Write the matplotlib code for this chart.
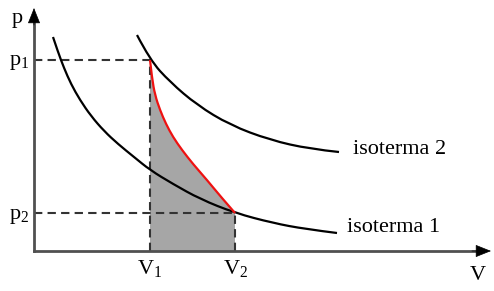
import numpy as np
import matplotlib
matplotlib.use("Agg")
import matplotlib.pyplot as plt
from matplotlib.path import Path
from matplotlib.patches import PathPatch

plt.rcParams['font.family'] = ['Liberation Serif', 'DejaVu Serif']
plt.rcParams['mathtext.fontset'] = 'custom'
plt.rcParams['mathtext.rm'] = 'Liberation Serif'

# state points (arbitrary units)
V1, V2 = 116, 201
p1, p2 = 191, 38

# isotherm 1 (lower)
iso1_V = [19, 24, 30, 37, 46, 57, 70, 84, 100, 116, 139, 166, 201, 239, 271, 303]
iso1_p = [214, 199, 183, 167, 151, 135, 120, 107, 94, 81, 67, 52, 38, 28, 22, 18]

# isotherm 2 (upper)
iso2_V = [103, 116, 136, 163, 196, 236, 276, 305]
iso2_p = [216, 191, 169, 146, 126, 111, 102, 99]

# adiabat from (V1, p1) to (V2, p2)
adi_V = [116, 118, 121, 126, 132, 139, 148, 159, 173, 187, 201]
adi_p = [191, 173, 156, 141, 127, 114, 101, 87, 71, 54, 38]

axis_col = '#505050'
dash_col = '#333333'


def smooth_path(xs, ys):
    # quadratic bezier through the midpoints, read points act as control points
    pts = np.column_stack([xs, ys]).astype(float)
    verts = [pts[0]]
    codes = [Path.MOVETO]
    for i in range(1, len(pts) - 1):
        mid = (pts[i] + pts[i + 1]) / 2 if i < len(pts) - 2 else pts[i + 1]
        verts += [pts[i], mid]
        codes += [Path.CURVE3, Path.CURVE3]
    return Path(verts, codes)


fig = plt.figure(figsize=(4.94, 2.91), dpi=100)
ax = fig.add_axes([0, 0, 1, 1])
ax.set_xlim(-34, 460)
ax.set_ylim(-40, 251)
ax.axis('off')

# shaded work area under the adiabat
adi = smooth_path(adi_V, adi_p)
fill_verts = np.vstack([[[V1, 0]], adi.vertices, [[V2, 0], [V1, 0]]])
fill_codes = [Path.MOVETO, Path.LINETO] + list(adi.codes[1:]) + [Path.LINETO, Path.CLOSEPOLY]
ax.add_patch(PathPatch(Path(fill_verts, fill_codes), fc='#a6a6a6', ec='none', zorder=1))

# dashed guides
ds = (0, (4, 2.5))
ax.plot([0, V1], [p1, p1], color=dash_col, lw=1.5, ls=ds, zorder=2)
ax.plot([0, V2], [p2, p2], color=dash_col, lw=1.5, ls=ds, zorder=2)
ax.plot([V1, V1], [0, p1], color=dash_col, lw=1.5, ls=ds, zorder=2)
ax.plot([V2, V2], [0, p2], color=dash_col, lw=1.5, ls=ds, zorder=2)

# curves
ax.add_patch(PathPatch(smooth_path(iso1_V, iso1_p), fc='none', ec='black', lw=1.6, zorder=3))
ax.add_patch(PathPatch(smooth_path(iso2_V, iso2_p), fc='none', ec='black', lw=1.6, zorder=3))
ax.add_patch(PathPatch(adi, fc='none', ec='#ee1111', lw=1.6, zorder=4))

# axes with arrows
ax.plot([0, 0], [0, 232], color=axis_col, lw=2, zorder=5, solid_capstyle='projecting')
ax.plot([0, 441], [0, 0], color=axis_col, lw=2, zorder=5, solid_capstyle='projecting')
arrow = dict(arrowstyle='-|>,head_length=0.5,head_width=0.2', color='black', lw=0.5,
             mutation_scale=20, shrinkA=0, shrinkB=0)
ax.annotate('', xy=(0, 243), xytext=(0, 226), arrowprops=arrow, zorder=6)
ax.annotate('', xy=(457, 0), xytext=(438, 0), arrowprops=arrow, zorder=6)

# labels
fs = 16
ax.text(-17, 233, 'p', fontsize=fs, ha='center', va='center')
ax.text(-5, p1 - 3, r'p$_\mathregular{1}$', fontsize=fs, ha='right', va='center')
ax.text(-5, p2 - 3, r'p$_\mathregular{2}$', fontsize=fs, ha='right', va='center')
ax.text(V1, -18, r'V$_\mathregular{1}$', fontsize=fs, ha='center', va='center')
ax.text(V2 + 1, -18, r'V$_\mathregular{2}$', fontsize=fs, ha='center', va='center')
ax.text(444, -24, 'V', fontsize=fs, ha='center', va='center')
ax.text(319, 101, 'isoterma 2', fontsize=fs, ha='left', va='center')
ax.text(313, 24, 'isoterma 1', fontsize=fs, ha='left', va='center')

fig.savefig('out.png', dpi=100)
